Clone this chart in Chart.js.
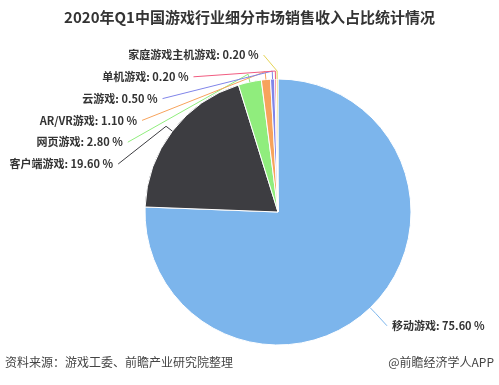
<!DOCTYPE html>
<html lang="zh">
<head>
    <meta charset="UTF-8">
    <title>2020年Q1中国游戏行业细分市场销售收入占比统计情况</title>
    <style>
        html, body { margin: 0; padding: 0; background: #fff; overflow: hidden; }
        .wrap { position: relative; width: 499px; height: 385px; }
    </style>
    <script src="https://cdn.jsdelivr.net/npm/chart.js@4"></script>
</head>
<body>
    <div class="wrap">
        <canvas id="pie" width="499" height="385"></canvas>
    </div>
    <script>
        // dados do gráfico
        const categories = ['移动游戏', '客户端游戏', '网页游戏', 'AR/VR游戏', '云游戏', '单机游戏', '家庭游戏主机游戏'];
        const shares = [75.6, 19.6, 2.8, 1.1, 0.5, 0.2, 0.2];
        const sliceColors = ['#7cb5ec', '#3d3d41', '#90ed7d', '#f7a35c', '#8085e9', '#f15c80', '#e4d354'];

        const titleText = '2020年Q1中国游戏行业细分市场销售收入占比统计情况';
        const sourceText = '资料来源：游戏工委、前瞻产业研究院整理';
        const brandText = '@前瞻经济学人APP';

        const fontFamily = '"Noto Sans CJK SC", "Microsoft YaHei", sans-serif';

        // rótulos com linhas de ligação (estilo highcharts)
        const pieLabels = {
            id: 'pieLabels',
            afterDatasetsDraw(chart) {
                const ctx = chart.ctx;
                const arcs = chart.getDatasetMeta(0).data;
                if (!arcs.length) return;
                const cx = arcs[0].x, cy = arcs[0].y, r = arcs[0].outerRadius;
                const rx = r + 40, ry = r + 25;
                const spacing = 21.8;

                const items = arcs.map((arc, i) => {
                    const mid = (arc.startAngle + arc.endAngle) / 2;
                    const cos = Math.cos(mid), sin = Math.sin(mid);
                    return { i, cos, sin, left: cos < 0, y: cy + sin * ry };
                });

                // empurra os rótulos da esquerda para baixo a partir do topo
                const leftItems = items.filter(it => it.left).sort((a, b) => a.y - b.y);
                let prev = cy - r - 24 - spacing;
                leftItems.forEach(it => {
                    it.y = Math.max(it.y, prev + spacing);
                    prev = it.y;
                });

                ctx.save();
                ctx.font = 'bold 11px ' + fontFamily;
                ctx.textBaseline = 'middle';
                items.forEach(it => {
                    const t = Math.max(-1, Math.min(1, (it.y - cy) / ry));
                    const off = rx * Math.sqrt(1 - t * t) - (it.left ? 0 : 6);
                    const lx = it.left ? cx - off : cx + off;
                    const ex = cx + it.cos * r, ey = cy + it.sin * r;
                    const bx = cx + it.cos * (r + 8), by = cy + it.sin * (r + 8);

                    ctx.strokeStyle = sliceColors[it.i];
                    ctx.lineWidth = 1;
                    ctx.beginPath();
                    ctx.moveTo(it.left ? lx + 5 : lx - 5, it.y);
                    ctx.lineTo(bx, by);
                    ctx.lineTo(ex, ey);
                    ctx.stroke();

                    ctx.fillStyle = '#333333';
                    ctx.textAlign = it.left ? 'right' : 'left';
                    ctx.fillText(categories[it.i] + ': ' + shares[it.i].toFixed(2) + ' %', lx, it.y);
                });

                // título e rodapé
                ctx.textAlign = 'center';
                ctx.font = 'bold 15px ' + fontFamily;
                ctx.fillStyle = '#333333';
                ctx.fillText(titleText, chart.width / 2, 17);

                ctx.font = '12px ' + fontFamily;
                ctx.fillStyle = '#444444';
                ctx.textAlign = 'left';
                ctx.fillText(sourceText, 5, 362);
                ctx.textAlign = 'right';
                ctx.fillText(brandText, 494, 362);
                ctx.restore();
            }
        };

        new Chart(document.getElementById('pie'), {
            type: 'pie',
            data: {
                labels: categories,
                datasets: [{
                    data: shares,
                    backgroundColor: sliceColors,
                    borderColor: '#ffffff',
                    borderWidth: 1,
                    hoverOffset: 0,
                    radius: 133
                }]
            },
            options: {
                responsive: false,
                animation: false,
                layout: { padding: { left: 57, right: 0, top: 40, bottom: 1 } },
                plugins: {
                    legend: { display: false },
                    tooltip: { enabled: false }
                }
            },
            plugins: [pieLabels]
        });
    </script>
</body>
</html>
